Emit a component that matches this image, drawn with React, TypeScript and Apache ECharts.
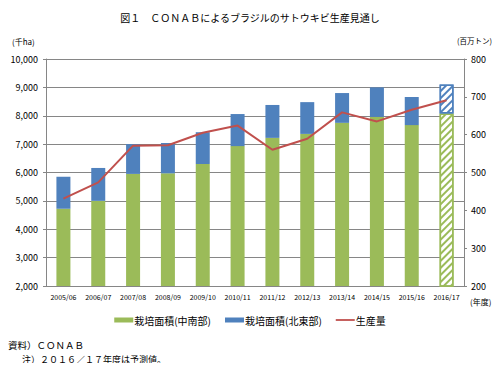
import React, { useEffect, useRef } from "react";
import * as echarts from "echarts";

const categories = ["2005/06", "2006/07", "2007/08", "2008/09", "2009/10", "2010/11", "2011/12", "2012/13", "2013/14", "2014/15", "2015/16", "2016/17"];
const areaCentreSouth = [4720, 5000, 5950, 5970, 6300, 6930, 7220, 7360, 7750, 7960, 7670, 8080];
const areaTotal = [5850, 6160, 7000, 7040, 7420, 8060, 8380, 8480, 8800, 9000, 8660, 9100];
const production = [431, 474, 571, 572, 605, 624, 560, 589, 659, 635, 666, 691];
const leftTicks = { min: 2000, max: 10000, interval: 1000 };
const rightTicks = { min: 200, max: 800, interval: 100 };
const forecastIndex = 11;

const GREEN = "#9BBB59";
const BLUE = "#4F81BD";
const RED = "#C0504D";
const FONT = "'Noto Sans CJK JP', 'Noto Sans', sans-serif";

const hatch = (c: string) => ({
  color: "#ffffff",
  borderColor: c,
  borderWidth: 1.5,
  decal: {
    symbol: "rect",
    symbolSize: 1,
    dashArrayX: [1, 0],
    dashArrayY: [2, 3],
    rotation: -Math.PI / 4,
    color: c,
    backgroundColor: "#ffffff",
  },
});

export default function App() {
  const ref = useRef<HTMLDivElement>(null);
  useEffect(() => {
    if (!ref.current) return;
    const chart = echarts.init(ref.current, null, { renderer: "svg" });
    const areaNorthEast = areaTotal.map((t, i) => t - areaCentreSouth[i]);
    const greenData = areaCentreSouth.map((v, i) =>
      i === forecastIndex ? { value: v, itemStyle: hatch(GREEN) } : v
    );
    const blueData = areaNorthEast.map((v, i) =>
      i === forecastIndex ? { value: v, itemStyle: hatch(BLUE) } : v
    );
    chart.setOption({
      animation: false,
      textStyle: { fontFamily: FONT },
      title: {
        text: "図１　ＣＯＮＡＢによるブラジルのサトウキビ生産見通し",
        left: "center",
        top: 7,
        textStyle: { fontSize: 10, fontWeight: "normal", color: "#000", fontFamily: FONT },
      },
      grid: { left: 46, right: 36, top: 59, bottom: 85, containLabel: false },
      legend: {
        bottom: 41,
        left: "center",
        itemGap: 14,
        itemWidth: 19,
        itemHeight: 5,
        textStyle: { fontSize: 10, color: "#000", fontFamily: FONT, padding: [0, 0, 0, -4] },
        data: [
          { name: "栽培面積(中南部)", icon: "rect" },
          { name: "栽培面積(北東部)", icon: "rect" },
          { name: "生産量", icon: "path://M0,0 M19,5 M0,1.6 L19,1.6 L19,3.4 L0,3.4 Z" },
        ],
      },
      xAxis: {
        type: "category",
        data: categories,
        axisLine: { lineStyle: { color: "#868686" } },
        axisTick: { show: false },
        axisLabel: { fontSize: 7, color: "#000", margin: 7, interval: 0 },
      },
      yAxis: [
        {
          type: "value",
          ...leftTicks,
          position: "left",
          axisLine: { show: true, lineStyle: { color: "#868686" } },
          axisTick: { show: true, length: 3, lineStyle: { color: "#868686" } },
          splitLine: { lineStyle: { color: "#868686", width: 1 } },
          axisLabel: {
            fontSize: 9,
            color: "#000",
            margin: 8,
            formatter: (v: number) => v.toLocaleString("en-US"),
          },
        },
        {
          type: "value",
          ...rightTicks,
          position: "right",
          axisLine: { show: true, lineStyle: { color: "#868686" } },
          axisTick: { show: true, length: 3, lineStyle: { color: "#868686" } },
          splitLine: { show: false },
          axisLabel: { fontSize: 9, color: "#000", margin: 7 },
        },
      ],
      series: [
        {
          name: "栽培面積(中南部)",
          type: "bar",
          stack: "area",
          barWidth: 14,
          itemStyle: { color: GREEN },
          data: greenData,
        },
        {
          name: "栽培面積(北東部)",
          type: "bar",
          stack: "area",
          barWidth: 14,
          itemStyle: { color: BLUE },
          data: blueData,
        },
        {
          name: "生産量",
          type: "line",
          yAxisIndex: 1,
          symbol: "none",
          lineStyle: { color: RED, width: 2 },
          itemStyle: { color: RED },
          data: production,
          z: 5,
        },
      ],
      graphic: [
        { type: "text", left: 12, top: 37, style: { text: "(千ha)", fontSize: 8, fill: "#000", fontFamily: FONT } },
        { type: "text", left: 457, top: 37, style: { text: "(百万トン)", fontSize: 7.5, fill: "#000", fontFamily: FONT } },
        { type: "text", left: 470, top: 297, style: { text: "(年度)", fontSize: 8, fill: "#000", fontFamily: FONT } },
        { type: "text", left: 8, top: 340, style: { text: "資料）ＣＯＮＡＢ", fontSize: 9.5, fill: "#000", fontFamily: FONT } },
        { type: "text", left: 22, top: 355, style: { text: "注）２０１６／１７年度は予測値。", fontSize: 9, fill: "#000", fontFamily: FONT } },
      ],
    });
    return () => chart.dispose();
  }, []);
  return <div ref={ref} style={{ width: 500, height: 371, margin: -8 }} />;
}
